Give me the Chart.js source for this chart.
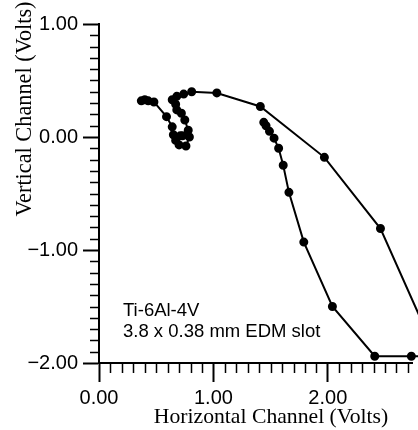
<!DOCTYPE html>
<html>
<head>
<meta charset="utf-8">
<script src="https://cdn.jsdelivr.net/npm/chart.js@4/dist/chart.umd.min.js"></script>
<style>
  html, body { margin: 0; padding: 0; background: #fff; }
  #wrap { width: 418px; height: 430px; }
</style>
</head>
<body>
<div id="wrap"><canvas id="grafico"></canvas></div>
<script>
// eddy current trace, horizontal vs vertical channel (volts)
const horizontal = [0.37, 0.40, 0.43, 0.48, 0.59, 0.64, 0.65, 0.71, 0.79, 0.76, 0.70, 0.67, 0.73, 0.78, 0.75, 0.72, 0.68, 0.67, 0.64, 0.68, 0.74, 0.81, 1.03, 1.41, 1.97, 2.46, 2.94, 2.92, 2.73, 2.41, 2.04, 1.79, 1.66, 1.61, 1.57, 1.53, 1.49, 1.46, 1.44]
const vertical = [0.32, 0.33, 0.32, 0.31, 0.18, 0.09, 0.02, 0.01, 0.00, -0.08, -0.07, -0.03, 0.01, 0.06, 0.15, 0.21, 0.24, 0.29, 0.33, 0.36, 0.38, 0.40, 0.39, 0.27, -0.18, -0.81, -1.90, -1.94, -1.94, -1.94, -1.50, -0.93, -0.49, -0.25, -0.10, -0.01, 0.05, 0.10, 0.13]
const xTicks = [0, 1, 2]
const yTicks = [1, 0, -1, -2]
const notes = ['Ti-6Al-4V', '3.8 x 0.38 mm EDM slot']

const fmt = v => v.toFixed(2).replace('-', '\u2212')

const extras = {
    id: 'extras',
    afterDraw(chart) {
        const ctx = chart.ctx
        const x = chart.scales.x
        const y = chart.scales.y
        const area = chart.chartArea
        ctx.save()
        ctx.strokeStyle = '#000'
        ctx.lineWidth = 1.5
        // minor ticks every 0.1
        ctx.beginPath()
        for (let i = -20; i <= 10; i++) {
            if (i % 10 === 0) continue
            const py = Math.round(y.getPixelForValue(i / 10)) + 0.5
            ctx.moveTo(area.left - 9, py)
            ctx.lineTo(area.left, py)
        }
        for (let i = 1; i <= 27; i++) {
            if (i % 10 === 0) continue
            const px = Math.round(x.getPixelForValue(i / 10)) + 0.5
            ctx.moveTo(px, area.bottom)
            ctx.lineTo(px, area.bottom + 10)
        }
        ctx.stroke()

        ctx.fillStyle = '#000'
        ctx.font = '18.5px "Liberation Sans", Arial, sans-serif'
        ctx.textBaseline = 'alphabetic'
        ctx.fillText(notes[0], area.left + 24, 316)
        ctx.fillText(notes[1], area.left + 24, 337)

        ctx.font = '21.7px "Liberation Serif", "Times New Roman", serif'
        ctx.textAlign = 'center'
        ctx.fillText('Horizontal Channel (Volts)', 271, 423)

        ctx.translate(31, 109)
        ctx.rotate(-Math.PI / 2)
        ctx.font = '22.3px "Liberation Serif", "Times New Roman", serif'
        ctx.fillText('Vertical Channel (Volts)', 0, 0)
        ctx.restore()
    }
}

new Chart(document.getElementById('grafico'), {
    type: 'scatter',
    data: {
        datasets: [{
            data: horizontal.map((h, i) => ({ x: h, y: vertical[i] })),
            showLine: true,
            borderColor: '#000',
            backgroundColor: '#000',
            borderWidth: 2,
            pointRadius: 3.5,
            pointHoverRadius: 3.5,
            tension: 0,
            clip: false
        }]
    },
    options: {
        responsive: true,
        maintainAspectRatio: false,
        animation: false,
        layout: { padding: { top: 24, right: 0, left: 0, bottom: 0 } },
        plugins: {
            legend: { display: false },
            tooltip: { enabled: false }
        },
        scales: {
            x: {
                type: 'linear',
                min: 0,
                max: 2.74,
                afterBuildTicks: s => { s.ticks = xTicks.map(v => ({ value: v })) },
                afterFit: s => { s.height = 67 },
                border: { display: true, color: '#000', width: 2 },
                grid: { drawOnChartArea: false, drawTicks: true, tickLength: 19, tickWidth: 2, tickColor: '#000' },
                ticks: {
                    color: '#000',
                    padding: 4,
                    maxRotation: 0,
                    font: { family: '"Liberation Sans", Arial, sans-serif', size: 20 },
                    callback: v => fmt(v)
                }
            },
            y: {
                type: 'linear',
                min: -2,
                max: 1,
                afterBuildTicks: s => { s.ticks = yTicks.map(v => ({ value: v })) },
                afterFit: s => { s.width = 99 },
                border: { display: true, color: '#000', width: 2 },
                grid: { drawOnChartArea: false, drawTicks: true, tickLength: 16, tickWidth: 2, tickColor: '#000' },
                ticks: {
                    color: '#000',
                    padding: 5,
                    font: { family: '"Liberation Sans", Arial, sans-serif', size: 20 },
                    callback: v => fmt(v)
                }
            }
        }
    },
    plugins: [extras]
})
</script>
</body>
</html>
